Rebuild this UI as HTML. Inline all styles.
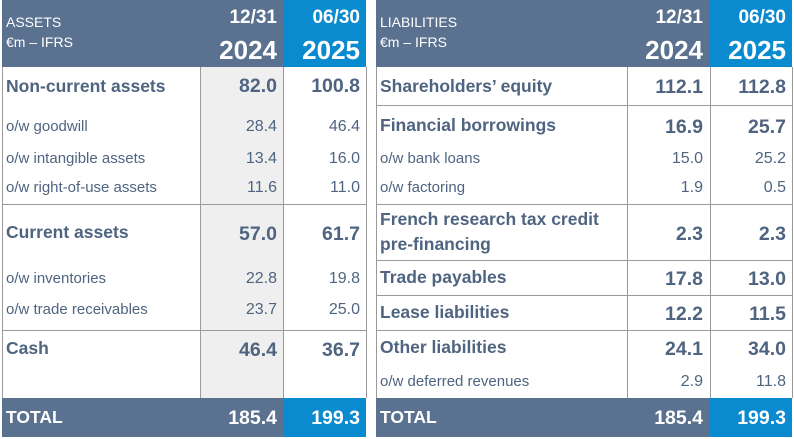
<!DOCTYPE html>
<html><head><meta charset="utf-8"><style>
body{margin:0;width:794px;height:439px;background:#fff;position:relative;overflow:hidden;font-family:"Liberation Sans",sans-serif;color:#4f6480}
div{position:absolute;box-sizing:border-box}
.h{background:#5a7290}.b{background:#0a8bd0}
.g{background:#efefef}
.hl{height:1px;background:#9a9a9a}
.vl{width:1px;background:#9a9a9a}
.t{white-space:nowrap;line-height:1}
.L{font-size:17.5px;font-weight:bold}
.s{font-size:15px}
.N{font-size:19.5px;font-weight:bold}
.S{font-size:16px}
.n{text-align:right}
.w{color:#fff}
.y{font-size:26px;font-weight:bold}
.d{font-size:19px;font-weight:bold}
</style></head><body>
<!-- LEFT TABLE -->
<div class="h" style="left:2px;top:0;width:282px;height:67px"></div>
<div class="b" style="left:284px;top:0;width:82px;height:67px"></div>
<div class="g" style="left:201px;top:67px;width:82px;height:331px"></div>
<div class="h" style="left:2px;top:398px;width:282px;height:39px"></div>
<div class="b" style="left:284px;top:398px;width:82px;height:39px"></div>
<div class="t w" style="left:6px;top:15px;font-size:14px">ASSETS</div>
<div class="t w" style="left:6px;top:35px;font-size:14px">€m – IFRS</div>
<div class="t w n d" style="left:200px;width:77px;top:8px">12/31</div>
<div class="t w n y" style="left:200px;width:77px;top:37px">2024</div>
<div class="t w n d" style="left:283px;width:77px;top:8px">06/30</div>
<div class="t w n y" style="left:283px;width:77px;top:37px">2025</div>
<div class="vl" style="left:2px;top:67px;height:331px"></div>
<div class="vl" style="left:200px;top:67px;height:331px"></div>
<div class="vl" style="left:283px;top:67px;height:331px"></div>
<div class="vl" style="left:366px;top:67px;height:331px"></div>
<div class="hl" style="left:2px;top:204px;width:365px"></div>
<div class="hl" style="left:2px;top:330px;width:365px"></div>
<div class="t L" style="left:6px;top:78px">Non-current assets</div>
<div class="t N n" style="left:200px;width:77px;top:77px">82.0</div>
<div class="t N n" style="left:283px;width:77px;top:77px">100.8</div>
<div class="t s" style="left:6px;top:119px">o/w goodwill</div>
<div class="t S n" style="left:200px;width:77px;top:119px">28.4</div>
<div class="t S n" style="left:283px;width:77px;top:119px">46.4</div>
<div class="t s" style="left:6px;top:151px">o/w intangible assets</div>
<div class="t S n" style="left:200px;width:77px;top:151px">13.4</div>
<div class="t S n" style="left:283px;width:77px;top:151px">16.0</div>
<div class="t s" style="left:6px;top:180px">o/w right-of-use assets</div>
<div class="t S n" style="left:200px;width:77px;top:180px">11.6</div>
<div class="t S n" style="left:283px;width:77px;top:180px">11.0</div>
<div class="t L" style="left:6px;top:224px">Current assets</div>
<div class="t N n" style="left:200px;width:77px;top:225px">57.0</div>
<div class="t N n" style="left:283px;width:77px;top:225px">61.7</div>
<div class="t s" style="left:6px;top:271px">o/w inventories</div>
<div class="t S n" style="left:200px;width:77px;top:271px">22.8</div>
<div class="t S n" style="left:283px;width:77px;top:271px">19.8</div>
<div class="t s" style="left:6px;top:302px">o/w trade receivables</div>
<div class="t S n" style="left:200px;width:77px;top:302px">23.7</div>
<div class="t S n" style="left:283px;width:77px;top:302px">25.0</div>
<div class="t L" style="left:6px;top:340px">Cash</div>
<div class="t N n" style="left:200px;width:77px;top:341px">46.4</div>
<div class="t N n" style="left:283px;width:77px;top:341px">36.7</div>
<div class="t L w" style="left:6px;top:409px">TOTAL</div>
<div class="t N w n" style="left:200px;width:77px;top:409px">185.4</div>
<div class="t N w n" style="left:283px;width:77px;top:409px">199.3</div>

<!-- RIGHT TABLE -->
<div class="h" style="left:376px;top:0;width:334px;height:67px"></div>
<div class="b" style="left:710px;top:0;width:82px;height:67px"></div>
<div class="h" style="left:376px;top:398px;width:334px;height:39px"></div>
<div class="b" style="left:710px;top:398px;width:82px;height:39px"></div>
<div class="t w" style="left:380px;top:15px;font-size:14px">LIABILITIES</div>
<div class="t w" style="left:380px;top:35px;font-size:14px">€m – IFRS</div>
<div class="t w n d" style="left:626px;width:77px;top:8px">12/31</div>
<div class="t w n y" style="left:626px;width:77px;top:37px">2024</div>
<div class="t w n d" style="left:709px;width:77px;top:8px">06/30</div>
<div class="t w n y" style="left:709px;width:77px;top:37px">2025</div>
<div class="vl" style="left:376px;top:67px;height:331px"></div>
<div class="vl" style="left:627px;top:67px;height:331px"></div>
<div class="vl" style="left:710px;top:67px;height:331px"></div>
<div class="vl" style="left:792px;top:67px;height:331px"></div>
<div class="hl" style="left:376px;top:105px;width:417px"></div>
<div class="hl" style="left:376px;top:204px;width:417px"></div>
<div class="hl" style="left:376px;top:260px;width:417px"></div>
<div class="hl" style="left:376px;top:295px;width:417px"></div>
<div class="hl" style="left:376px;top:330px;width:417px"></div>
<div class="t L" style="left:380px;top:78px">Shareholders’ equity</div>
<div class="t N n" style="left:626px;width:77px;top:78px">112.1</div>
<div class="t N n" style="left:709px;width:77px;top:78px">112.8</div>
<div class="t L" style="left:380px;top:117px">Financial borrowings</div>
<div class="t N n" style="left:626px;width:77px;top:118px">16.9</div>
<div class="t N n" style="left:709px;width:77px;top:118px">25.7</div>
<div class="t s" style="left:380px;top:151px">o/w bank loans</div>
<div class="t S n" style="left:626px;width:77px;top:151px">15.0</div>
<div class="t S n" style="left:709px;width:77px;top:151px">25.2</div>
<div class="t s" style="left:380px;top:180px">o/w factoring</div>
<div class="t S n" style="left:626px;width:77px;top:180px">1.9</div>
<div class="t S n" style="left:709px;width:77px;top:180px">0.5</div>
<div class="t L" style="left:380px;top:211px">French research tax credit</div>
<div class="t L" style="left:380px;top:236px">pre-financing</div>
<div class="t N n" style="left:626px;width:77px;top:225px">2.3</div>
<div class="t N n" style="left:709px;width:77px;top:225px">2.3</div>
<div class="t L" style="left:380px;top:269px">Trade payables</div>
<div class="t N n" style="left:626px;width:77px;top:270px">17.8</div>
<div class="t N n" style="left:709px;width:77px;top:270px">13.0</div>
<div class="t L" style="left:380px;top:304px">Lease liabilities</div>
<div class="t N n" style="left:626px;width:77px;top:305px">12.2</div>
<div class="t N n" style="left:709px;width:77px;top:305px">11.5</div>
<div class="t L" style="left:380px;top:339px">Other liabilities</div>
<div class="t N n" style="left:626px;width:77px;top:340px">24.1</div>
<div class="t N n" style="left:709px;width:77px;top:340px">34.0</div>
<div class="t s" style="left:380px;top:374px">o/w deferred revenues</div>
<div class="t S n" style="left:626px;width:77px;top:374px">2.9</div>
<div class="t S n" style="left:709px;width:77px;top:374px">11.8</div>
<div class="t L w" style="left:380px;top:409px">TOTAL</div>
<div class="t N w n" style="left:626px;width:77px;top:409px">185.4</div>
<div class="t N w n" style="left:709px;width:77px;top:409px">199.3</div>
</body></html>
